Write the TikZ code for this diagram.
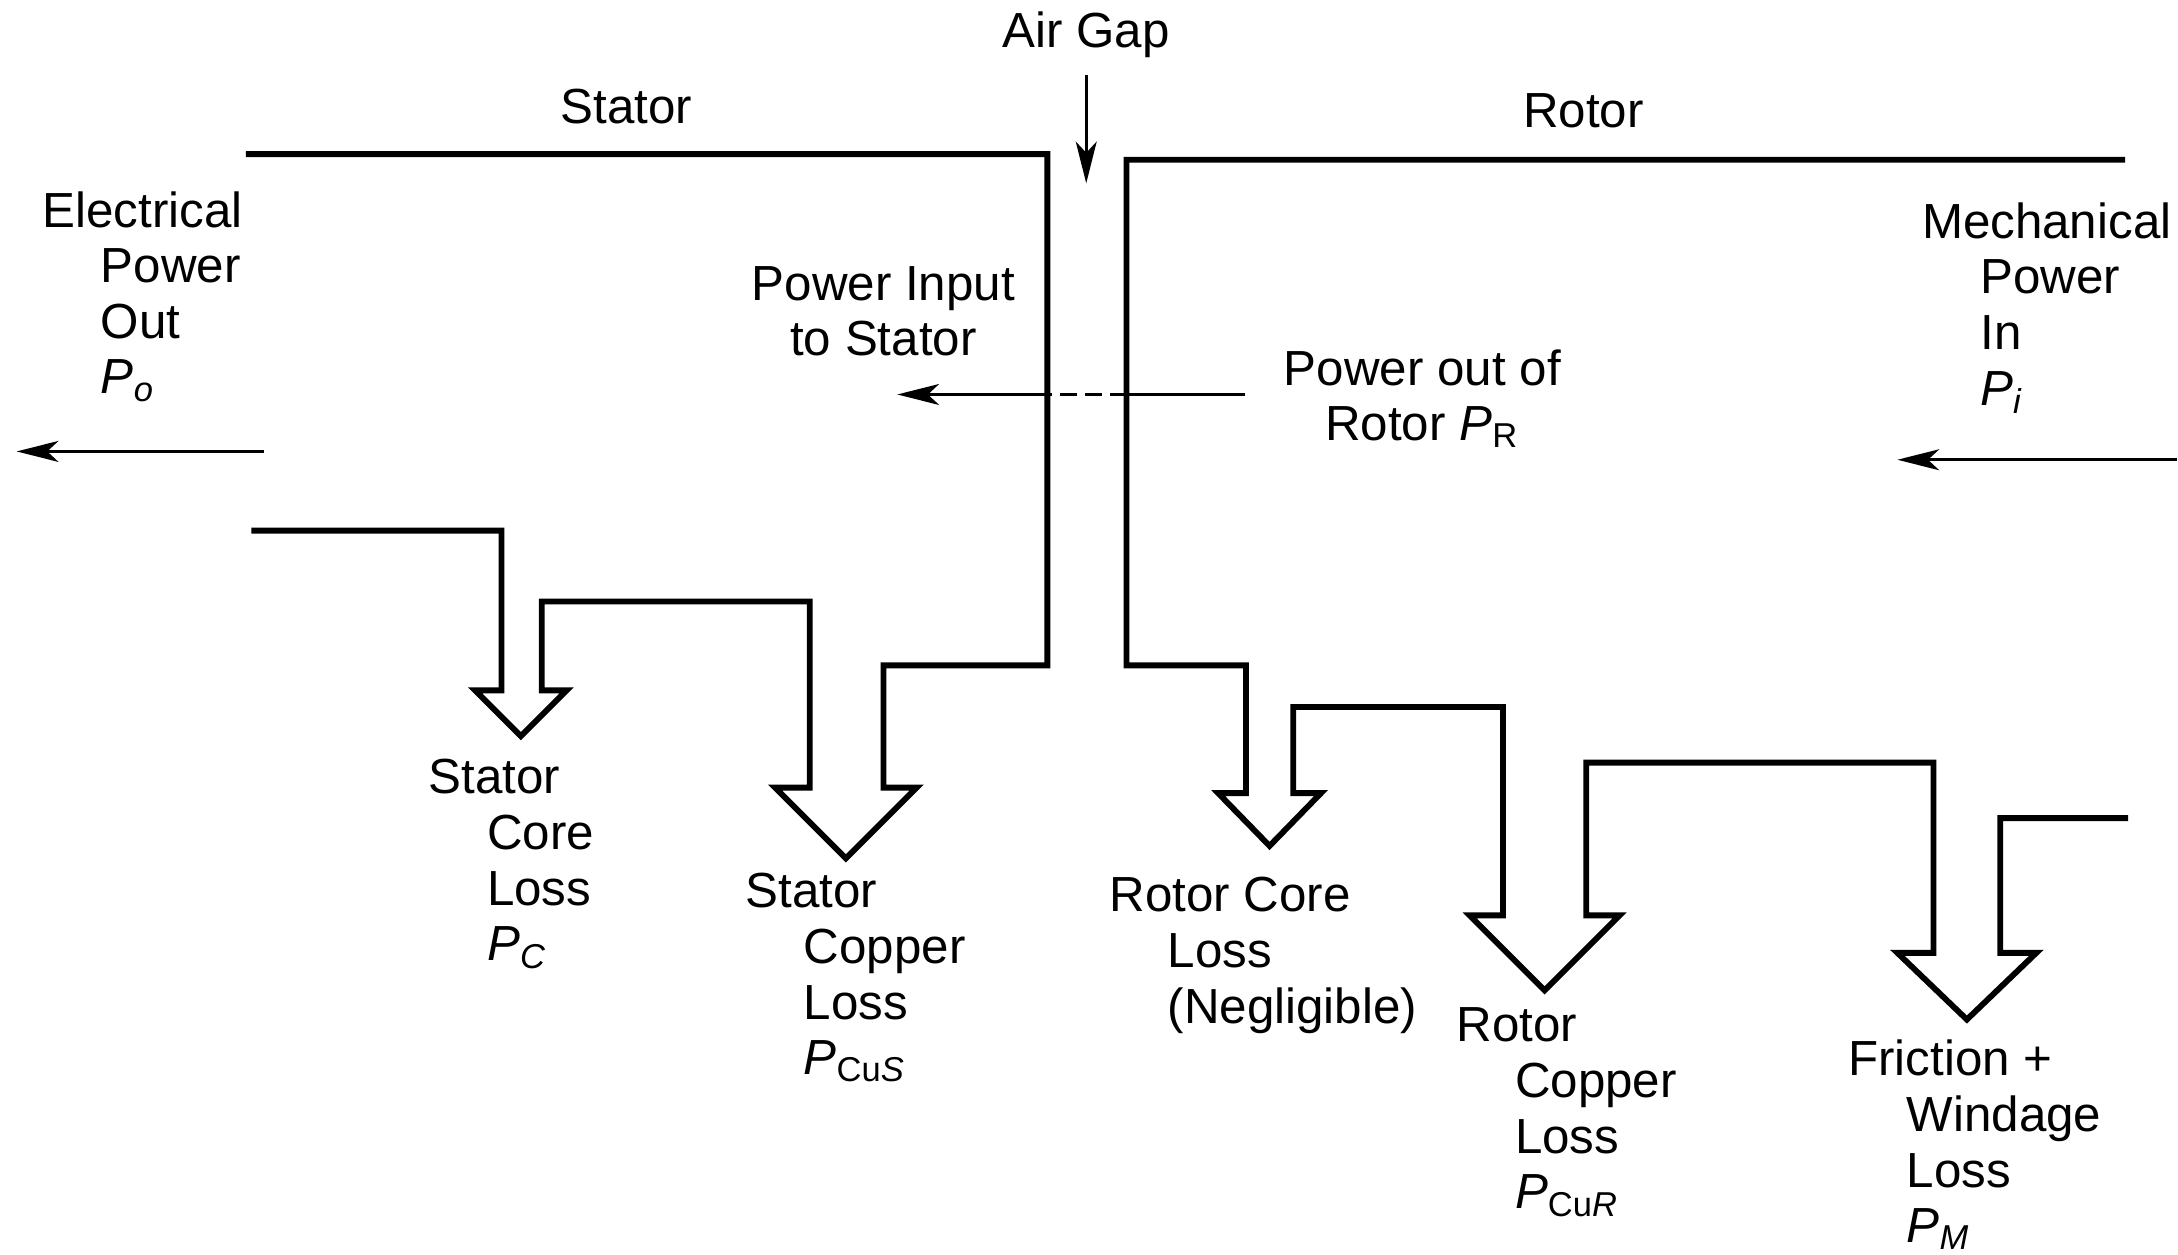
\documentclass[tikz,border=0pt]{standalone}
\usepackage{fontspec}
\setmainfont{Liberation Sans}
\usepackage{tikz}
\usetikzlibrary{arrows.meta}
\newcommand{\pw}[1]{\textit{P}\textsubscript{\textit{#1}}}
\newcommand{\ind}{\hspace*{4.2mm}}

\begin{document}
\begin{tikzpicture}[x=0.1mm,y=-0.1mm,font=\fontsize{10.1}{11.4}\selectfont,
  lbl/.style={inner sep=0pt,anchor=north west,align=left},
  wall/.style={line width=1.2pt,line join=miter},
  flow/.style={line width=0.7pt,-{Stealth[length=3mm,width=1.5mm,inset=0.8mm]}}]
\useasboundingbox (0,0) rectangle (1568,903);
% stator
\draw[wall] (177,111) -- (754,111) -- (754,479) -- (636,479) -- (636,567)
  -- (660,567) -- (609,618) -- (558,567) -- (583,567) -- (583,433)
  -- (390,433) -- (390,497) -- (408,497) -- (375,530) -- (342,497)
  -- (361,497) -- (361,382) -- (181,382);
% rotor
\draw[wall] (1530,115) -- (811,115) -- (811,479) -- (897,479) -- (897,571)
  -- (877,571) -- (914,609) -- (951,571) -- (931,571) -- (931,509)
  -- (1082,509) -- (1082,659) -- (1058,659) -- (1112,713) -- (1166,659)
  -- (1142,659) -- (1142,549) -- (1392,549) -- (1392,686) -- (1366,686)
  -- (1416,734) -- (1466,686) -- (1440,686) -- (1440,589) -- (1532,589);

\node (gap) at (782,25) {Air Gap};
\node (stator) at (451,77) {Stator};
\node (rotor) at (1140,80) {Rotor};
\coordinate (gapend) at (782,132);
\draw[flow] (gap) -- (gapend);

\node[lbl] (elec) at (30,137) {Electrical\\\ind Power\\\ind Out\\\ind\pw{o}};
\node[lbl] (mech) at (1383,145) {Mechanical\\\ind Power\\\ind In\\\ind\pw{i}};
\node[inner sep=0pt,align=center] (pin) at (636,224) {Power Input\\to Stator};
\node[inner sep=0pt,align=center] (pout) at (1024,287) {Power out of\\Rotor \textit{P}\textsubscript{R}};

\coordinate (po0) at (190,325);
\coordinate (po1) at (12,325);
\coordinate (pi0) at (1567,331);
\coordinate (pi1) at (1366,331);
\draw[flow] (po0) -- (po1);
\draw[flow] (pi0) -- (pi1);

\coordinate (pr0) at (896,284);
\coordinate (pr1) at (811,284);
\coordinate (pr2) at (754,284);
\coordinate (pr3) at (646,284);
\draw[line width=0.7pt] (pr0) -- (pr1);
\draw[line width=0.7pt,dash pattern=on 1.2mm off 0.6mm] (pr1) -- (pr2);
\draw[flow] (pr2) -- (pr3);

\node[lbl] (score) at (308,546) {Stator\\\ind Core\\\ind Loss\\\ind\pw{C}};
\node[lbl] (scu) at (536,628) {Stator\\\ind Copper\\\ind Loss\\\ind\pw{\textup{Cu}S}};
\node[lbl] (rcore) at (798,631) {Rotor Core\\\ind Loss\\\ind(Negligible)};
\node[lbl] (rcu) at (1048,725) {Rotor\\\ind Copper\\\ind Loss\\\ind\pw{\textup{Cu}R}};
\node[lbl] (fw) at (1330,748) {Friction +\\\ind Windage\\\ind Loss\\\ind\pw{M}};
\end{tikzpicture}
\end{document}
